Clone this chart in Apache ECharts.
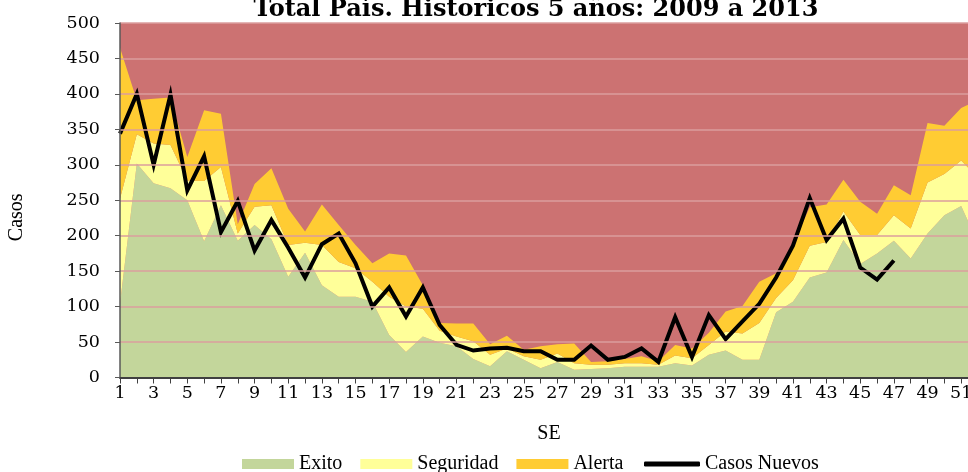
<!DOCTYPE html>
<html>
<head>
<meta charset="utf-8">
<script src="https://cdn.jsdelivr.net/npm/echarts@6/dist/echarts.min.js"></script>
<style>
  html, body { margin: 0; padding: 0; background: #ffffff; }
  #chart { width: 968px; height: 472px; }
</style>
</head>
<body>
<div id="chart"></div>
<script>
// Semanas epidemiológicas 1..52
const semanas = Array.from({ length: 52 }, (_, i) => String(i + 1));

// Canal endémico (bandas apiladas)
const exito = [104, 302, 274, 267, 250, 192, 243, 193, 215, 195, 142, 176, 130, 114, 114, 107, 60, 36, 58, 49,
  44, 26, 16, 37, 25, 13, 22, 11, 12, 13, 15, 15, 15, 20, 17, 32, 38, 25, 25, 92,
  107, 141, 148, 194, 160, 175, 193, 168, 203, 229, 242, 190];
const seguridad = [148, 41, 56, 61, 28, 85, 54, 10, 26, 48, 45, 14, 57, 49, 40, 28, 54, 64, 39, 17,
  14, 25, 16, 4, 5, 12, 12, 9, 6, 5, 5, 5, 3, 11, 10, 14, 27, 37, 52, 20,
  30, 45, 43, 40, 41, 26, 36, 42, 72, 58, 64, 92];
const alerta = [213, 48, 63, 67, 33, 100, 75, 13, 32, 52, 51, 16, 57, 52, 33, 26, 61, 72, 33, 11,
  18, 25, 15, 18, 9, 19, 13, 28, 4, 5, 6, 10, 5, 15, 14, 17, 28, 39, 58, 35,
  51, 54, 53, 45, 47, 30, 42, 47, 84, 68, 74, 110];

// Casos nuevos del año en curso (hasta la semana 47)
const casosNuevos = [344, 400, 300, 399, 264, 312, 205, 249, 179, 222, 183, 141, 188, 203, 161, 100, 127, 86, 127, 74,
  46, 38, 41, 42, 37, 37, 25, 25, 45, 25, 29, 41, 22, 85, 29, 88, 54, 79, 104, 141,
  186, 253, 194, 224, 155, 138, 165];

const yTicks = { min: 0, max: 500, step: 50 };

const FONT = '"Liberation Serif", "Times New Roman", serif';
const NUM_FONT = '"DejaVu Serif", serif';
const chart = echarts.init(document.getElementById('chart'), null, { renderer: 'canvas' });

function band(name, data, color) {
  return {
    name, type: 'line', stack: 'canal', data,
    symbol: 'none', showSymbol: false,
    lineStyle: { width: 0, color },
    itemStyle: { color },
    areaStyle: { color, opacity: 1 },
    emphasis: { disabled: true },
    z: 2
  };
}

const legendText = { fontFamily: FONT, fontSize: 20, color: '#000' };

chart.setOption({
  animation: false,
  backgroundColor: '#ffffff',
  title: {
    text: 'Total País. Historicos 5 años: 2009 a 2013',
    left: 531, top: -7, textAlign: 'center',
    textStyle: { fontFamily: '"DejaVu Serif", serif', fontWeight: 'bold', fontSize: 24, color: '#000' }
  },
  legend: [
    {
      left: 242, top: 454, padding: 0,
      itemWidth: 52, itemHeight: 10, itemGap: 18,
      textStyle: legendText,
      data: [
        { name: 'Exito', icon: 'rect' },
        { name: 'Seguridad', icon: 'rect' },
        { name: 'Alerta', icon: 'rect' }
      ]
    },
    {
      left: 644, top: 454, padding: 0,
      itemWidth: 56, itemHeight: 5,
      textStyle: legendText,
      data: [{ name: 'Casos Nuevos', icon: 'roundRect' }]
    }
  ],
  grid: {
    left: 120, top: 23, width: 858, height: 354.5,
    outerBoundsMode: 'none', containLabel: false,
    show: true, backgroundColor: '#CC7272', borderWidth: 0
  },
  xAxis: {
    type: 'category', data: semanas, boundaryGap: false,
    name: 'SE', nameLocation: 'middle', nameGap: 46,
    nameTextStyle: { fontFamily: FONT, fontSize: 20, color: '#000' },
    axisLine: { lineStyle: { color: '#404040', width: 2 } },
    axisTick: { alignWithLabel: true, interval: 0, length: 6, lineStyle: { color: '#404040', width: 1 } },
    axisLabel: { interval: 1, margin: 7, fontFamily: NUM_FONT, fontSize: 17.5, color: '#000' },
    splitLine: { show: false },
    z: 5
  },
  yAxis: {
    type: 'value', min: yTicks.min, max: yTicks.max, interval: yTicks.step,
    name: 'Casos', nameLocation: 'middle', nameGap: 93, nameRotate: 90,
    nameTextStyle: { fontFamily: FONT, fontSize: 20, color: '#000', padding: [0, 34, 0, 0] },
    axisLine: { show: true, lineStyle: { color: '#595959', width: 1.5 } },
    axisTick: { show: true, length: 5, lineStyle: { color: '#595959' } },
    axisLabel: { margin: 20, fontFamily: NUM_FONT, fontSize: 17.5, color: '#000' },
    splitLine: { show: true, lineStyle: { color: '#DB9E9E', width: 1.5 } },
    z: 5
  },
  series: [
    band('Exito', exito, '#C3D69B'),
    band('Seguridad', seguridad, '#FFFF99'),
    band('Alerta', alerta, '#FFCC33'),
    {
      name: 'Casos Nuevos', type: 'line', data: casosNuevos,
      symbol: 'none', showSymbol: false,
      lineStyle: { color: '#000000', width: 4, join: 'miter' },
      itemStyle: { color: '#000000' },
      emphasis: { disabled: true },
      z: 4
    }
  ]
});
</script>
</body>
</html>
